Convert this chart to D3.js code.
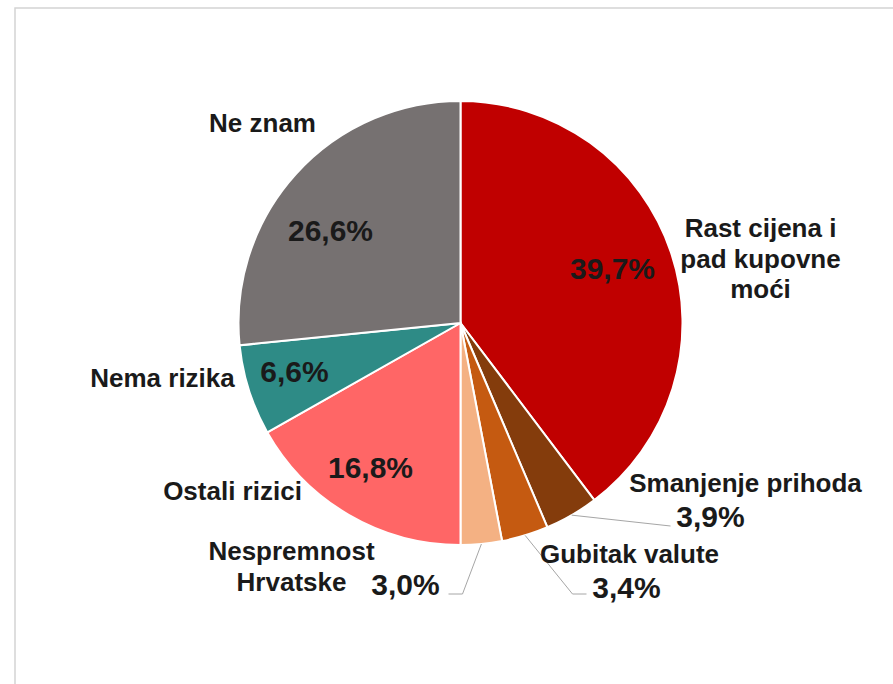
<!DOCTYPE html>
<html>
<head>
<meta charset="utf-8">
<script src="https://cdn.jsdelivr.net/npm/d3@7"></script>
<style>
  body { margin: 0; background: #fff; }
  #pie { width: 893px; height: 684px; }
  text { font-family: "Liberation Sans", Arial, sans-serif; font-weight: bold; fill: #1a1a1a; }
</style>
</head>
<body>
<div id="pie"></div>
<script>
// data
const categories = ['Rast cijena i pad kupovne moći', 'Smanjenje prihoda', 'Gubitak valute',
  'Nespremnost Hrvatske', 'Ostali rizici', 'Nema rizika', 'Ne znam'];
const labelLines = [['Rast cijena i', 'pad kupovne', 'moći'], ['Smanjenje prihoda'], ['Gubitak valute'],
  ['Nespremnost', 'Hrvatske'], ['Ostali rizici'], ['Nema rizika'], ['Ne znam']];
const values = [39.7, 3.9, 3.4, 3.0, 16.8, 6.6, 26.6];

const colors = ['#C00000', '#843C0C', '#C55A11', '#F4B183', '#FF6666', '#2E8B86', '#767171'];

// label placement (relative to pie centre): name, percent, leader elbows
const layout = [
  {name: [300, -86], pct: [152, -44]},
  {name: [285, 169], pct: [250, 204], line: [[210, 203]]},
  {name: [169, 240], pct: [166, 275], line: [[112, 271], [126, 271]]},
  {name: [-169, 237], pct: [-55, 272], line: [[2, 271], [-12, 271]]},
  {name: [-228, 177], pct: [-90, 155]},
  {name: [-298, 64], pct: [-166, 59]},
  {name: [-198, -191], pct: [-130, -82]}
];

const fmt = v => d3.format('.1f')(v).replace('.', ',') + '%';

const div = d3.select('#pie');
const width = 893, height = 684;
const cx = 460.5, cy = 323, radius = 222;

const svg = div.append('svg')
  .attr('width', width)
  .attr('height', height);

// frame
svg.append('rect')
  .attr('x', 15).attr('y', 8)
  .attr('width', width).attr('height', height)
  .attr('fill', 'none')
  .attr('stroke', '#d4d4d4')
  .attr('stroke-width', 1.5);

const g = svg.append('g')
  .attr('transform', `translate(${cx}, ${cy})`);

const pie = d3.pie().sort(null).value(d => d);
const arcs = pie(values);

const arc = d3.arc().innerRadius(0).outerRadius(radius);
const edgeArc = d3.arc().innerRadius(radius).outerRadius(radius);

g.selectAll('path.slice')
  .data(arcs)
  .join('path')
  .attr('class', 'slice')
  .attr('d', arc)
  .attr('fill', (d, i) => colors[i])
  .attr('stroke', '#fff')
  .attr('stroke-width', 2);

// leader lines
g.selectAll('path.leader')
  .data(arcs.filter((d, i) => layout[i].line))
  .join('path')
  .attr('class', 'leader')
  .attr('fill', 'none')
  .attr('stroke', '#a6a6a6')
  .attr('stroke-width', 1)
  .attr('d', d => d3.line()([edgeArc.centroid(d), ...layout[d.index].line]));

// category labels
const names = g.selectAll('text.name')
  .data(arcs)
  .join('text')
  .attr('class', 'name')
  .attr('text-anchor', 'middle')
  .attr('font-size', 26)
  .attr('transform', d => `translate(${layout[d.index].name})`);

names.selectAll('tspan')
  .data(d => labelLines[d.index])
  .join('tspan')
  .attr('x', 0)
  .attr('y', (t, j) => j * 30.5)
  .text(t => t);

// percentages
g.selectAll('text.pct')
  .data(arcs)
  .join('text')
  .attr('class', 'pct')
  .attr('text-anchor', 'middle')
  .attr('font-size', 30)
  .attr('x', d => layout[d.index].pct[0])
  .attr('y', d => layout[d.index].pct[1])
  .text(d => fmt(d.data));
</script>
</body>
</html>
